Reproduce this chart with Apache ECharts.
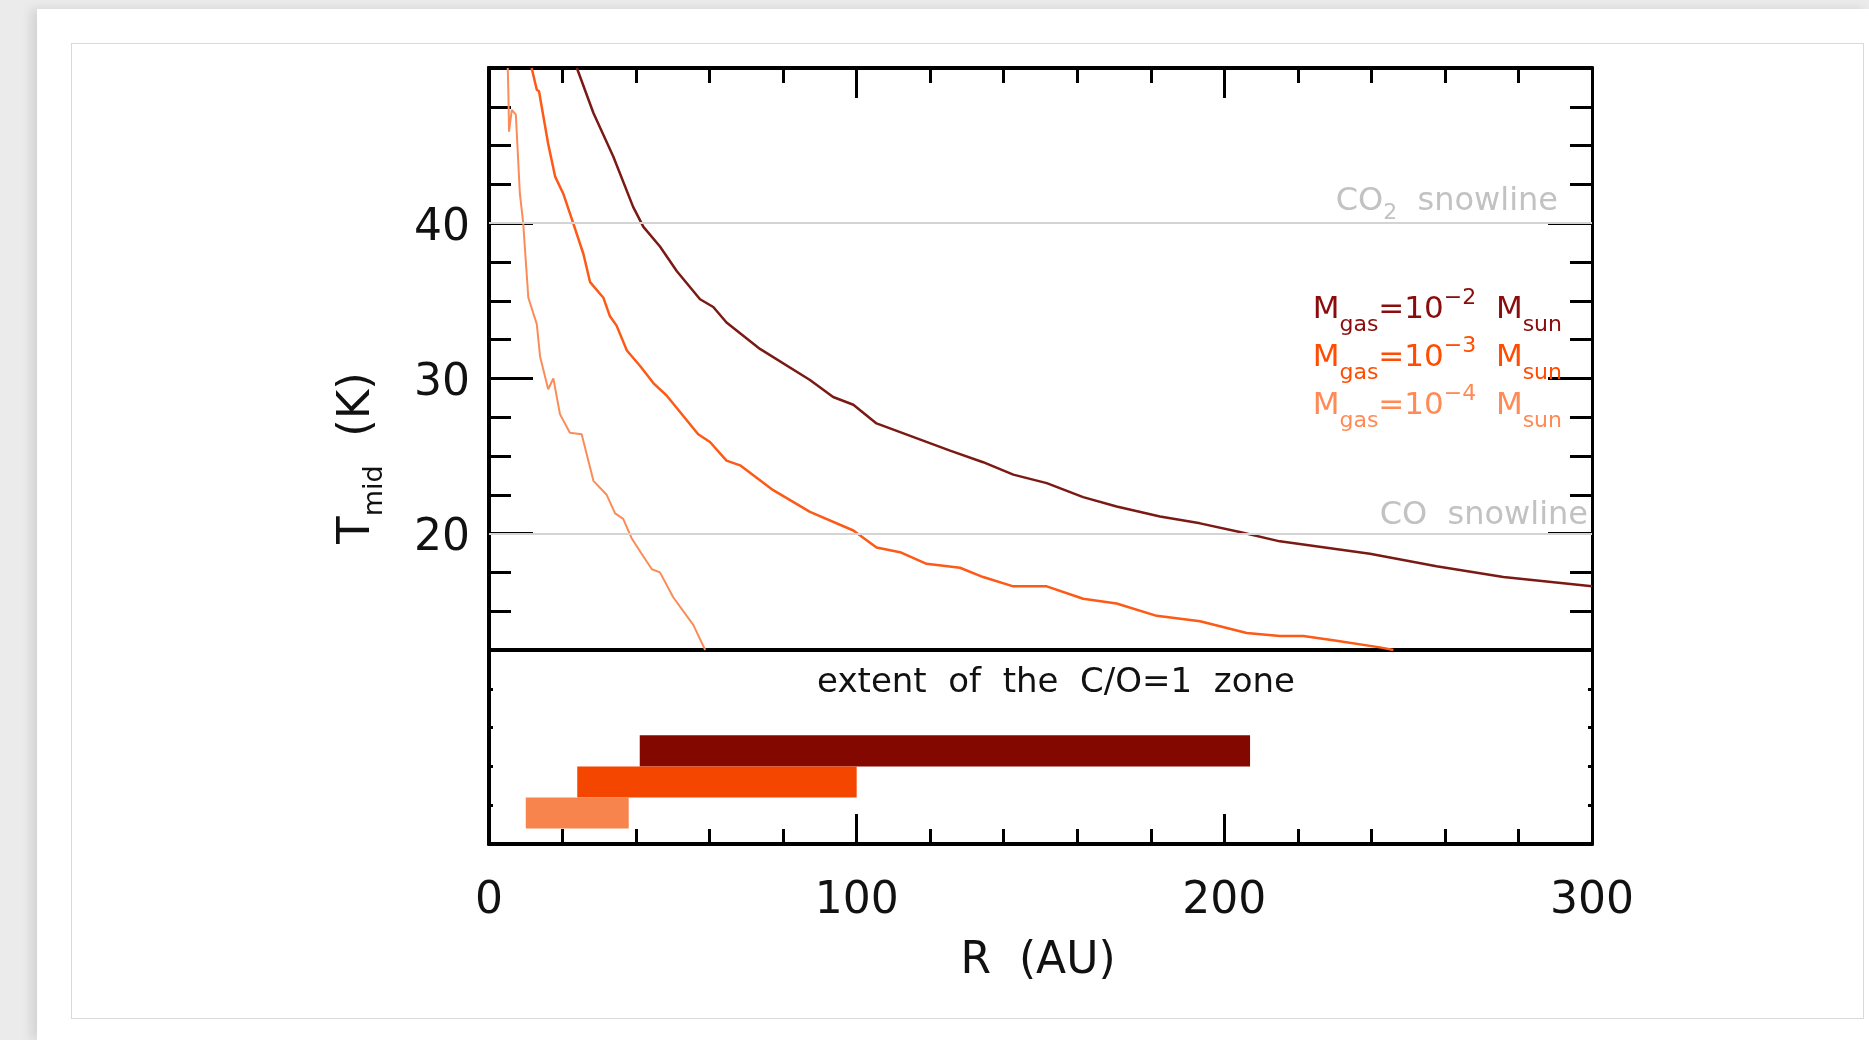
<!DOCTYPE html>
<html>
<head>
<meta charset="utf-8">
<script src="https://cdn.jsdelivr.net/npm/echarts@6/dist/echarts.min.js"></script>
<style>
  body { margin: 0; background: #ebebeb; overflow: hidden; }
  .page { position: absolute; left: 37px; top: 9px; right: 0; bottom: 0; background: #fff;
          box-shadow: -6px 0 10px rgba(0,0,0,0.10); }
  .box { position: absolute; left: 71px; top: 43px; width: 1791px; height: 974px;
         border: 1px solid #d9d9d9; background: #fff; }
  #chart { position: absolute; left: 0; top: 0; width: 1869px; height: 1040px; }
</style>
</head>
<body>
<div class="page"></div>
<div class="box"></div>
<div id="chart"></div>
<script>
// T_mid(R) for the three disc gas masses
var rHigh = [23.9, 28.4, 33.8, 39.2, 42.0, 46.5, 51.1, 57.4, 61.0, 64.6, 73.7, 87.3, 93.6, 99.1, 105.4, 125.4, 134.4, 142.6, 151.7, 161.6, 170.7, 182.5, 193.4, 204.2, 215.1, 239.6, 257.7, 275.9, 300];
var tHigh = [50, 47.1, 44.3, 41.05, 39.76, 38.5, 36.9, 35.1, 34.6, 33.6, 31.9, 29.9, 28.8, 28.3, 27.1, 25.35, 24.6, 23.8, 23.25, 22.35, 21.75, 21.1, 20.66, 20.1, 19.5, 18.7, 17.9, 17.2, 16.6];

var rMid = [11.6, 13.0, 13.6, 16.1, 18.0, 20.2, 22.9, 25.7, 27.5, 31.1, 32.9, 34.7, 37.5, 41.1, 44.7, 48.3, 56.9, 60.1, 64.6, 68.3, 77.3, 87.3, 99.1, 105.4, 111.8, 119.0, 128.1, 134.4, 142.6, 151.7, 161.6, 170.7, 181.6, 193.4, 206.1, 215.1, 221.5, 230.5, 242.3, 246];
var tMid = [50, 48.6, 48.5, 45.1, 43.0, 41.9, 40.0, 38.0, 36.2, 35.2, 34.0, 33.4, 31.8, 30.8, 29.7, 28.9, 26.4, 25.9, 24.7, 24.4, 22.8, 21.4, 20.2, 19.1, 18.8, 18.05, 17.8, 17.2, 16.6, 16.6, 15.8, 15.5, 14.7, 14.35, 13.6, 13.4, 13.4, 13.1, 12.67, 12.5];

var rLow = [5.1, 5.3, 5.45, 6.2, 7.3, 8.4, 9.3, 10.7, 13.0, 13.9, 16.1, 17.5, 19.3, 22.0, 25.2, 28.4, 32.0, 34.3, 36.5, 38.8, 41.5, 44.3, 46.5, 50.1, 55.6, 58.8];
var tLow = [50, 48.1, 45.9, 47.3, 47.0, 41.9, 40.0, 35.2, 33.5, 31.4, 29.3, 30.0, 27.7, 26.5, 26.4, 23.4, 22.5, 21.3, 20.95, 19.7, 18.7, 17.7, 17.5, 15.9, 14.1, 12.5];

// extent of the C/O=1 zone (AU) and its row band in the lower panel
var zoneStart = [41, 24, 10];
var zoneEnd = [207, 100, 38];
var zoneLow = [2.0, 1.2, 0.4];
var zoneHigh = [2.8, 2.0, 1.2];

var massExp = ['-2', '-3', '-4'];
var snowT = [40, 20];
// temperature tick marks (every 2.5 K), labelled ones
var tTicks = ['12.5', '15', '17.5', '20', '22.5', '25', '27.5', '30', '32.5', '35', '37.5', '40', '42.5', '45', '47.5', '50'];
var yLabelValues = ['20', '30', '40'];

var lineColors = ['#7b1a14', '#fc5a16', '#fb8c58'];
var textColors = ['#8a0c0c', '#ff4c00', '#ff8a55'];
var zoneColors = ['#820800', '#f54600', '#f6844c'];

var FONT = "'DejaVu Sans', sans-serif";

function pairs(xs, ys) {
  var out = [];
  for (var i = 0; i < xs.length; i++) out.push([xs[i], ys[i]]);
  return out;
}

var zoneData = [];
for (var i = 0; i < zoneStart.length; i++) {
  zoneData.push([zoneStart[i], zoneEnd[i], zoneLow[i], zoneHigh[i]]);
}

function isMajor(index, value) {
  return yLabelValues.indexOf(tTicks[index]) >= 0;
}

var black = '#000';
var tickStyle = { color: black, width: 3 };

var myChart = echarts.init(document.getElementById('chart'));

var option = {
  animation: false,
  backgroundColor: 'transparent',
  textStyle: { fontFamily: FONT },
  grid: [
    { left: 489, top: 68, width: 1103, height: 582 },
    { left: 489, top: 650, width: 1103, height: 194 }
  ],
  xAxis: [
    { // boundary between panels
      gridIndex: 0, type: 'value', position: 'bottom', min: 0, max: 300,
      axisLine: { onZero: false, lineStyle: { color: black, width: 4 } },
      axisTick: { show: false }, axisLabel: { show: false }, splitLine: { show: false }
    },
    {
      gridIndex: 0, type: 'value', position: 'top', min: 0, max: 300, interval: 20,
      axisLine: { onZero: false, lineStyle: { color: black, width: 4 } },
      axisTick: { inside: true, length: 15, lineStyle: tickStyle },
      axisLabel: { show: false }, splitLine: { show: false }
    },
    {
      gridIndex: 0, type: 'value', position: 'top', min: 0, max: 300, interval: 100,
      axisLine: { onZero: false, lineStyle: { color: black, width: 4 } },
      axisTick: { inside: true, length: 30, lineStyle: tickStyle },
      axisLabel: { show: false }, splitLine: { show: false }
    },
    {
      gridIndex: 1, type: 'value', position: 'bottom', min: 0, max: 300, interval: 100,
      axisLine: { onZero: false, lineStyle: { color: black, width: 4 } },
      axisTick: { inside: true, length: 30, lineStyle: tickStyle },
      axisLabel: { margin: 36, fontSize: 44, color: '#111', fontFamily: FONT },
      splitLine: { show: false }
    },
    {
      gridIndex: 1, type: 'value', position: 'bottom', min: 0, max: 300, interval: 20,
      axisLine: { onZero: false, lineStyle: { color: black, width: 4 } },
      axisTick: { inside: true, length: 15, lineStyle: tickStyle },
      axisLabel: { show: false }, splitLine: { show: false }
    }
  ],
  yAxis: [
    {
      gridIndex: 0, type: 'value', position: 'left', min: 12.5, max: 50, interval: 2.5,
      axisLine: { onZero: false, lineStyle: { color: black, width: 4 } },
      axisTick: { inside: true, length: 22, lineStyle: tickStyle },
      axisLabel: { show: false }, splitLine: { show: false }
    },
    { // long ticks + labels at 20, 30, 40
      gridIndex: 0, type: 'category', position: 'left', data: tTicks, boundaryGap: false,
      axisLine: { onZero: false, lineStyle: { color: black, width: 4 } },
      axisTick: { inside: true, length: 44, interval: isMajor, lineStyle: tickStyle },
      axisLabel: {
        interval: isMajor, margin: 19, color: '#111', fontFamily: FONT,
        formatter: function (v) { return '{v|' + v + '}'; },
        rich: { v: { fontSize: 44, color: '#111', fontFamily: FONT, lineHeight: 50, padding: [10, 0, 0, 0] } }
      },
      splitLine: { show: false }
    },
    {
      gridIndex: 0, type: 'value', position: 'right', min: 12.5, max: 50, interval: 2.5,
      axisLine: { onZero: false, lineStyle: { color: black, width: 3 } },
      axisTick: { inside: true, length: 22, lineStyle: tickStyle },
      axisLabel: { show: false }, splitLine: { show: false }
    },
    {
      gridIndex: 0, type: 'category', position: 'right', data: tTicks, boundaryGap: false,
      axisLine: { onZero: false, lineStyle: { color: black, width: 3 } },
      axisTick: { inside: true, length: 44, interval: isMajor, lineStyle: tickStyle },
      axisLabel: { show: false }, splitLine: { show: false }
    },
    {
      gridIndex: 1, type: 'value', position: 'left', min: 0, max: 5, interval: 1,
      axisLine: { onZero: false, lineStyle: { color: black, width: 4 } },
      axisTick: { inside: true, length: 4, lineStyle: tickStyle },
      axisLabel: { show: false }, splitLine: { show: false }
    },
    {
      gridIndex: 1, type: 'value', position: 'right', min: 0, max: 5, interval: 1,
      axisLine: { onZero: false, lineStyle: { color: black, width: 3 } },
      axisTick: { inside: true, length: 4, lineStyle: tickStyle },
      axisLabel: { show: false }, splitLine: { show: false }
    }
  ],
  series: [
    {
      name: 'snowlines', type: 'line', xAxisIndex: 0, yAxisIndex: 0, data: [], z: 1,
      markLine: {
        silent: true, symbol: 'none', animation: false,
        lineStyle: { color: '#d4d4d4', width: 2, type: 'solid' },
        label: {
          show: true, position: 'insideEndTop', color: '#c2c2c2', fontFamily: FONT,
          rich: {
            a: { fontSize: 32, color: '#c2c2c2', fontFamily: FONT, lineHeight: 40 },
            s: { fontSize: 22, color: '#c2c2c2', fontFamily: FONT, lineHeight: 40, padding: [24, 0, 0, 0] }
          }
        },
        data: [
          { yAxis: snowT[0], label: { formatter: '{a|CO}{s|2}{a|  snowline}', distance: [34, 2] } },
          { yAxis: snowT[1], label: { formatter: '{a|CO  snowline}', distance: [4, -2] } }
        ]
      }
    },
    {
      name: 'M1e-2', type: 'line', xAxisIndex: 0, yAxisIndex: 0, showSymbol: false, z: 3,
      lineStyle: { color: lineColors[0], width: 2.5 }, data: pairs(rHigh, tHigh)
    },
    {
      name: 'M1e-3', type: 'line', xAxisIndex: 0, yAxisIndex: 0, showSymbol: false, z: 3,
      lineStyle: { color: lineColors[1], width: 2.5 }, data: pairs(rMid, tMid)
    },
    {
      name: 'M1e-4', type: 'line', xAxisIndex: 0, yAxisIndex: 0, showSymbol: false, z: 3,
      lineStyle: { color: lineColors[2], width: 2 }, data: pairs(rLow, tLow)
    },
    {
      name: 'C/O=1 zone', type: 'custom', xAxisIndex: 3, yAxisIndex: 4,
      encode: { x: [0, 1], y: [2, 3] },
      data: zoneData,
      renderItem: function (params, api) {
        var a = api.coord([api.value(0), api.value(3)]);
        var b = api.coord([api.value(1), api.value(2)]);
        return {
          type: 'rect',
          shape: { x: a[0], y: a[1], width: b[0] - a[0], height: b[1] - a[1] },
          style: { fill: zoneColors[params.dataIndex] }
        };
      }
    }
  ],
  graphic: []
};

// legend lines
var legendY = [310, 358, 406];
for (var k = 0; k < massExp.length; k++) {
  var c = textColors[k];
  option.graphic.push({
    type: 'text', x: 1562, y: legendY[k], z: 10,
    style: {
      text: '{m|M}{sb|gas}{m|=10}{sp|\u2212' + massExp[k].slice(1) + '}{m|  M}{sb|sun}',
      align: 'right', verticalAlign: 'middle',
      rich: {
        m: { fontSize: 31, fill: c, fontFamily: FONT, lineHeight: 40 },
        sb: { fontSize: 22, fill: c, fontFamily: FONT, lineHeight: 40, padding: [30, 0, 0, 0] },
        sp: { fontSize: 22, fill: c, fontFamily: FONT, lineHeight: 40, padding: [0, 0, 24, 0] }
      }
    }
  });
}

option.graphic.push({
  type: 'text', x: 1056, y: 683, z: 10,
  style: { text: 'extent  of  the  C/O=1  zone', fontSize: 34, fontFamily: FONT, fill: '#111',
           align: 'center', verticalAlign: 'middle' }
});
option.graphic.push({
  type: 'text', x: 1038, y: 962, z: 10,
  style: { text: 'R  (AU)', fontSize: 44, fontFamily: FONT, fill: '#111',
           align: 'center', verticalAlign: 'middle' }
});
option.graphic.push({
  type: 'text', x: 357, y: 458, rotation: Math.PI / 2, z: 10,
  style: {
    text: '{t|T}{s|mid}{t|  (K)}', align: 'center', verticalAlign: 'middle',
    rich: {
      t: { fontSize: 45, fill: '#111', fontFamily: FONT, lineHeight: 56 },
      s: { fontSize: 27, fill: '#111', fontFamily: FONT, lineHeight: 56, padding: [36, 0, 0, 0] }
    }
  }
});

myChart.setOption(option);
</script>
</body>
</html>
